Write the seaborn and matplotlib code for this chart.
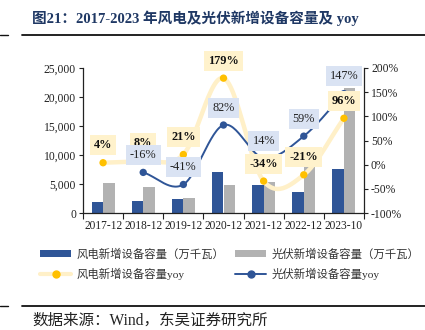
import numpy as np
import pandas as pd
import matplotlib
matplotlib.use("Agg")
import matplotlib.pyplot as plt
from matplotlib.lines import Line2D
from matplotlib.patches import Patch
import seaborn as sns

sns.set_theme(style="white")
plt.rcParams['font.family'] = ['Liberation Serif', 'Noto Sans CJK SC', 'DejaVu Sans']
plt.rcParams['axes.unicode_minus'] = False

# ---- data ----
years = ["2017-12", "2018-12", "2019-12", "2020-12", "2021-12", "2022-12", "2023-10"]
wind_cap = [1900, 2000, 2500, 7150, 4750, 3700, 7550]
pv_cap = [5250, 4450, 2600, 4800, 5400, 8000, 21500]
wind_yoy = [4, 8, 21, 179, -34, -21, 96]
pv_yoy_years = ["2018-12", "2019-12", "2020-12", "2021-12", "2022-12", "2023-10"]
pv_yoy = [-16, -41, 82, 14, 59, 147]

series_names = ["风电新增设备容量（万千瓦）", "光伏新增设备容量（万千瓦）"]
line_names = ["风电新增设备容量yoy", "光伏新增设备容量yoy"]

BLUE = "#2F5597"
GRAY = "#B2B2B2"
GOLD = "#FFC000"
LIGHTY = "#FFF0C8"
BOXY = "#FFF2CC"
BOXB = "#DAE3F3"

df = pd.DataFrame({
    "year": years * 2,
    "value": wind_cap + pv_cap,
    "series": [series_names[0]] * len(years) + [series_names[1]] * len(years),
})

fig = plt.figure(figsize=(4.25, 3.3), dpi=100)
ax = fig.add_axes([83 / 425, 1 - 213 / 330, (364 - 83) / 425, (213 - 68) / 330])

sns.barplot(data=df, x="year", y="value", hue="series", order=years,
            palette=[BLUE, GRAY], width=0.57, gap=0, saturation=1,
            linewidth=0, legend=False, ax=ax)
ax.set_xlim(-0.5, len(years) - 0.5)
ax.set_ylim(0, 25000)
ax.set_yticks(np.arange(0, 25001, 5000))
ax.set_yticklabels([f"{int(v):,}" for v in np.arange(0, 25001, 5000)], fontsize=8.4)
ax.set_xlabel("")
ax.set_ylabel("")
ax.set_xticks(range(len(years)))
ax.set_xticklabels(years, fontsize=8.3)
ax.set_xticks(np.arange(-0.5, len(years), 1), minor=True)
ax.tick_params(axis='x', which='major', length=0, pad=5, colors='#222222')
ax.tick_params(axis='x', which='minor', length=4, width=0.8, color='#222222', bottom=True)
ax.tick_params(axis='y', which='major', length=3, width=0.8, color='#222222', left=True, pad=2, colors='#222222')
for s in ["top", "right"]:
    ax.spines[s].set_visible(False)
for s in ["left", "bottom"]:
    ax.spines[s].set_color("#222222")
    ax.spines[s].set_linewidth(0.9)
ax.grid(False)

ax2 = ax.twinx()
ax2.set_ylim(-100, 200)
yt = np.arange(-100, 201, 50)
ax2.set_yticks(yt)
ax2.set_yticklabels([f"{int(v)}%" for v in yt], fontsize=8.4)
ax2.tick_params(axis='y', length=3, width=0.8, color='#222222', right=True, pad=2, colors='#222222')
for s in ["top", "left", "bottom"]:
    ax2.spines[s].set_visible(False)
ax2.spines["right"].set_color("#222222")
ax2.spines["right"].set_linewidth(0.9)
ax2.grid(False)


def smooth(xs, ys, n=30):
    xs = np.asarray(xs, float)
    ys = np.asarray(ys, float)
    px = np.concatenate([[2 * xs[0] - xs[1]], xs, [2 * xs[-1] - xs[-2]]])
    py = np.concatenate([[2 * ys[0] - ys[1]], ys, [2 * ys[-1] - ys[-2]]])
    ox, oy = [], []
    for i in range(1, len(px) - 2):
        t = np.linspace(0, 1, n)
        for arr, out in ((px, ox), (py, oy)):
            p0, p1, p2, p3 = arr[i - 1], arr[i], arr[i + 1], arr[i + 2]
            out.extend(0.5 * ((2 * p1) + (-p0 + p2) * t +
                              (2 * p0 - 5 * p1 + 4 * p2 - p3) * t ** 2 +
                              (-p0 + 3 * p1 - 3 * p2 + p3) * t ** 3))
    return np.array(ox), np.array(oy)


wx = [years.index(y) for y in years]
px_ = [years.index(y) for y in pv_yoy_years]

sx, sy = smooth(wx, wind_yoy)
ax2.plot(sx, sy, color=LIGHTY, lw=3.2, solid_capstyle='round', zorder=3)
sns.scatterplot(x=wx, y=wind_yoy, color=GOLD, s=28, edgecolor='none', ax=ax2, zorder=4)

sx, sy = smooth(px_, pv_yoy)
ax2.plot(sx, sy, color=BLUE, lw=1.4, zorder=5)
sns.scatterplot(x=px_, y=pv_yoy, color=BLUE, s=28, edgecolor='none', ax=ax2, zorder=6)

for x, v in zip(wx, wind_yoy):
    ax2.annotate(f"{v}%", (x, v), xytext=(0, 12.5), textcoords='offset points',
                 ha='center', va='center', fontsize=8.8, fontweight='bold', color='#111111',
                 bbox=dict(boxstyle='square,pad=0.33', fc=BOXY, ec='none'), zorder=7)
for x, v in zip(px_, pv_yoy):
    ax2.annotate(f"{v}%", (x, v), xytext=(0, 12.5), textcoords='offset points',
                 ha='center', va='center', fontsize=8.8, color='#222222',
                 bbox=dict(boxstyle='square,pad=0.33', fc=BOXB, ec='none'), zorder=8)

handles = [
    Patch(facecolor=BLUE, edgecolor='none'),
    Line2D([0], [0], color=LIGHTY, lw=3, marker='o', markerfacecolor=GOLD, markeredgecolor=GOLD, markersize=5),
    Patch(facecolor=GRAY, edgecolor='none'),
    Line2D([0], [0], color=BLUE, lw=1.4, marker='o', markerfacecolor=BLUE, markeredgecolor=BLUE, markersize=5),
]
labels = [series_names[0], line_names[0], series_names[1], line_names[1]]
leg = fig.legend(handles, labels, ncol=2, loc='upper left', bbox_to_anchor=(30 / 425, 1 - 238 / 330),
                 frameon=False, fontsize=8.2, handlelength=2.7, handleheight=0.45,
                 columnspacing=1.0, labelspacing=0.7, handletextpad=0.45, labelcolor='#333333')

fig.text(32 / 425, 1 - 18 / 330, "图21：2017-2023 年风电及光伏新增设备容量及 yoy",
         fontsize=10.5, fontweight='bold', color='#1F3864', va='center', ha='left')
fig.add_artist(Line2D([22 / 425, 1], [1 - 35 / 330] * 2, color='#111111', lw=1.3))
fig.add_artist(Line2D([0, 8 / 425], [1 - 35 / 330] * 2, color='#111111', lw=1.0))
fig.add_artist(Line2D([22 / 425, 1], [1 - 306 / 330] * 2, color='#111111', lw=1.3))
fig.add_artist(Line2D([0, 8 / 425], [1 - 306 / 330] * 2, color='#111111', lw=1.0))
fig.text(32 / 425, 1 - 321 / 330, "数据来源：Wind，东吴证券研究所",
         fontsize=11.2, color='#222222', va='center', ha='left')

fig.savefig("out.png", dpi=100)
